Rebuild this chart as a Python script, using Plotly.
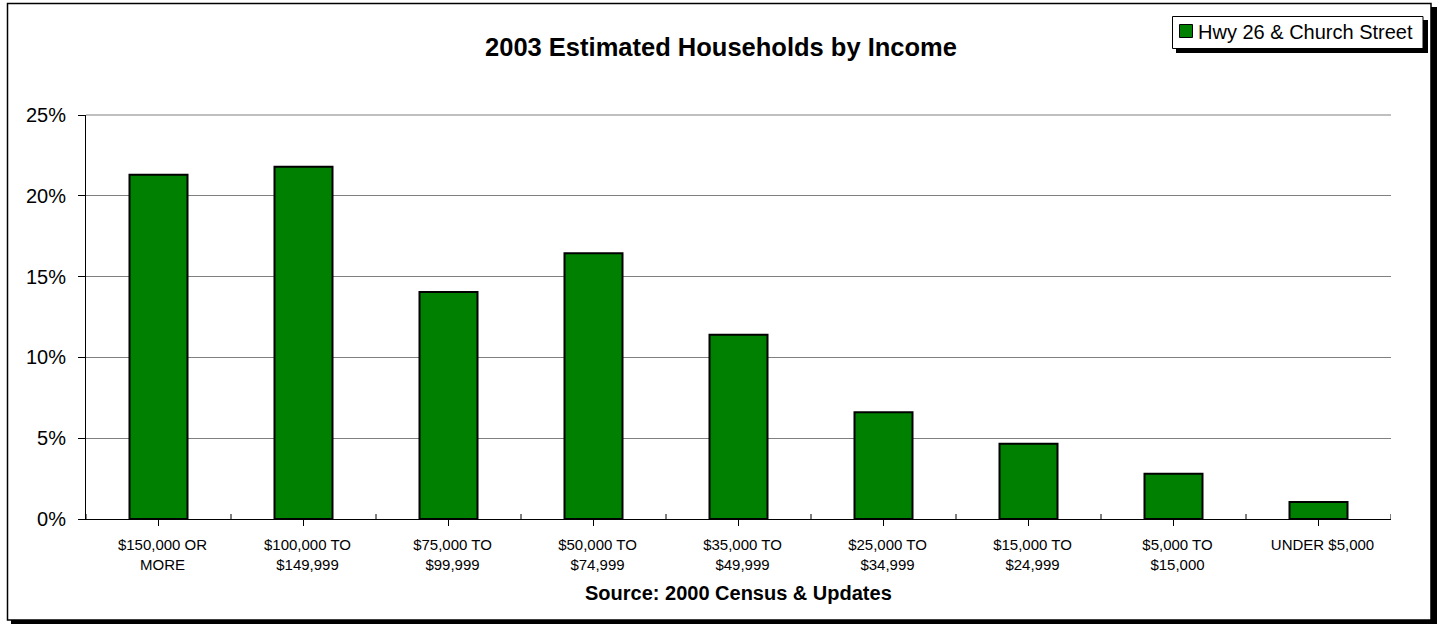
import plotly.graph_objects as go

# Household income brackets and share of households (%)
categories = [
    "$150,000 OR<br>MORE",
    "$100,000 TO<br>$149,999",
    "$75,000 TO<br>$99,999",
    "$50,000 TO<br>$74,999",
    "$35,000 TO<br>$49,999",
    "$25,000 TO<br>$34,999",
    "$15,000 TO<br>$24,999",
    "$5,000 TO<br>$15,000",
    "UNDER $5,000",
]
shares = [21.3, 21.8, 14.05, 16.45, 11.4, 6.6, 4.65, 2.8, 1.05]
series_name = "Hwy 26 & Church Street"
y_ticks = [0, 5, 10, 15, 20, 25]

W, H = 1442, 624
L, R, T, B = 86, 1391, 115, 519
FONT = "Liberation Sans, Arial, sans-serif"
GREEN = "#008000"


def px(x):
    return (x - L) / (R - L)


def py(y):
    return (B - y) / (B - T)


fig = go.Figure(
    go.Bar(
        x=list(range(len(categories))),
        y=shares,
        name=series_name,
        width=0.4,
        marker=dict(color=GREEN, line=dict(color="black", width=2)),
        showlegend=False,
    )
)

shapes = []
# outer frame with drop shadow
shapes.append(dict(type="rect", xref="paper", yref="paper",
                   x0=px(1431), x1=px(1437), y0=py(7), y1=py(624),
                   fillcolor="black", line=dict(width=0), layer="below"))
shapes.append(dict(type="rect", xref="paper", yref="paper",
                   x0=px(11), x1=px(1437), y0=py(620), y1=py(624),
                   fillcolor="black", line=dict(width=0), layer="below"))
shapes.append(dict(type="rect", xref="paper", yref="paper",
                   x0=px(7.5), x1=px(1431), y0=py(3.5), y1=py(620),
                   line=dict(color="black", width=1.5), layer="below"))
# top gridline at the upper end of the value range
shapes.append(dict(type="line", xref="paper", yref="paper",
                   x0=0, x1=1, y0=1, y1=1,
                   line=dict(color="#808080", width=1), layer="below"))
# legend box with shadow
shapes.append(dict(type="rect", xref="paper", yref="paper",
                   x0=px(1423), x1=px(1428), y0=py(20), y1=py(53),
                   fillcolor="black", line=dict(width=0)))
shapes.append(dict(type="rect", xref="paper", yref="paper",
                   x0=px(1176), x1=px(1428), y0=py(48.5), y1=py(53),
                   fillcolor="black", line=dict(width=0)))
shapes.append(dict(type="rect", xref="paper", yref="paper",
                   x0=px(1172.5), x1=px(1423), y0=py(16.5), y1=py(48.5),
                   fillcolor="white", line=dict(color="black", width=1)))
shapes.append(dict(type="rect", xref="paper", yref="paper",
                   x0=px(1179.5), x1=px(1192.5), y0=py(24.5), y1=py(37.5),
                   fillcolor=GREEN, line=dict(color="black", width=1)))
# category boundary ticks crossing the axis (inner part)
for i in range(len(categories) + 1):
    shapes.append(dict(type="line", xref="x", yref="paper",
                       x0=i - 0.5, x1=i - 0.5, y0=0, y1=5 / (B - T),
                       line=dict(color="black", width=1)))

annotations = [
    dict(text=series_name, xref="paper", yref="paper",
         x=px(1196), y=py(32), xanchor="left", yanchor="middle",
         showarrow=False, font=dict(family=FONT, size=20, color="black")),
    dict(text="<b>Source: 2000 Census & Updates</b>", xref="paper", yref="paper",
         x=0.5, y=py(593), xanchor="center", yanchor="middle",
         showarrow=False, font=dict(family=FONT, size=20, color="black")),
]

fig.update_layout(
    width=W, height=H,
    margin=dict(l=L, r=W - R, t=T, b=H - B, pad=0),
    paper_bgcolor="white",
    plot_bgcolor="white",
    font=dict(family=FONT, color="black"),
    title=dict(text="<b>2003 Estimated Households by Income</b>",
               x=0.5, xref="container", xanchor="center",
               y=1 - 47 / H, yref="container", yanchor="middle",
               font=dict(family=FONT, size=25.5, color="black")),
    shapes=shapes,
    annotations=annotations,
    bargap=0.6,
    xaxis=dict(
        tickmode="array",
        tickvals=list(range(len(categories))),
        ticktext=categories,
        range=[-0.5, len(categories) - 0.5],
        showline=True, linecolor="black", linewidth=1,
        ticks="outside", ticklen=6, tickcolor="black", tickwidth=1,
        tickson="boundaries",
        ticklabelstandoff=6,
        ticklabelshift=4,
        tickfont=dict(family=FONT, size=15, color="black"),
        showgrid=False, zeroline=False,
    ),
    yaxis=dict(
        range=[0, 25],
        tickmode="array",
        tickvals=y_ticks,
        ticktext=[f"{v}%" for v in y_ticks],
        showline=True, linecolor="black", linewidth=1,
        ticks="outside", ticklen=7, tickcolor="black",
        ticklabelstandoff=8,
        tickfont=dict(family=FONT, size=20, color="black"),
        showgrid=True, gridcolor="#808080", gridwidth=1,
        zeroline=False,
    ),
)

fig.write_html("out.html")
